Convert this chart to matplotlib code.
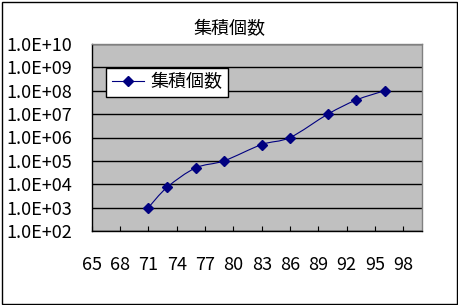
import numpy as np
import matplotlib
matplotlib.use("Agg")
import matplotlib.pyplot as plt
from matplotlib.path import Path
from matplotlib.patches import PathPatch, Rectangle
from matplotlib.lines import Line2D
from matplotlib.ticker import FixedLocator, FuncFormatter, NullLocator

plt.rcParams["font.family"] = ["Noto Sans CJK JP", "DejaVu Sans"]

# data
title = "集積個数"
series_name = "集積個数"
x_vals = [71, 73, 76, 79, 83, 86, 90, 93, 96]
y_vals = [1e3, 7.5e3, 5e4, 1e5, 5e5, 1e6, 1e7, 4e7, 1e8]
x_ticks = [65, 68, 71, 74, 77, 80, 83, 86, 89, 92, 95, 98]
y_decades = [2, 3, 4, 5, 6, 7, 8, 9, 10]

NAVY = "#000080"
PLOT_BG = "#c0c0c0"

fig = plt.figure(figsize=(4.58, 3.05), dpi=100)
fig.patch.set_facecolor("white")
ax = fig.add_axes([91.7 / 458, 1 - 231 / 305, (422.3 - 91.7) / 458, (231 - 44) / 305])
ax.set_facecolor(PLOT_BG)

# outer chart border
fig.add_artist(Rectangle((1.5 / 458, 1.5 / 305), 455 / 458, 302 / 305,
                         transform=fig.transFigure, fill=False,
                         edgecolor="black", linewidth=1.0))

ax.set_yscale("log")
ax.set_xlim(65, 100)
ax.set_ylim(1e2, 1e10)

# smoothed line (Excel-style bezier), control points in (x, log10 y) space
lx = np.array(x_vals, float)
ly = np.log10(y_vals)
verts = [(lx[0], ly[0])]
codes = [Path.MOVETO]
n = len(lx)
for i in range(n - 1):
    p_prev = i - 1 if i > 0 else i
    p_next = i + 2 if i + 2 < n else i + 1
    c1 = (lx[i] + (lx[i + 1] - lx[p_prev]) / 6, ly[i] + (ly[i + 1] - ly[p_prev]) / 6)
    c2 = (lx[i + 1] - (lx[p_next] - lx[i]) / 6, ly[i + 1] - (ly[p_next] - ly[i]) / 6)
    verts += [c1, c2, (lx[i + 1], ly[i + 1])]
    codes += [Path.CURVE4] * 3
verts = [(vx, 10 ** vy) for vx, vy in verts]
ax.add_patch(PathPatch(Path(verts, codes), facecolor="none", edgecolor=NAVY,
                       linewidth=0.8, transform=ax.transData, zorder=3))
ax.plot(x_vals, y_vals, linestyle="none", marker="D", markersize=5.5,
        color=NAVY, zorder=4)

# gridlines
ax.yaxis.set_major_locator(FixedLocator([10.0 ** d for d in y_decades]))
ax.yaxis.set_minor_locator(NullLocator())
ax.yaxis.set_major_formatter(FuncFormatter(lambda v, pos: "1.0E+%02d" % round(np.log10(v))))
ax.grid(axis="y", color="black", linewidth=1.0)
ax.set_axisbelow(True)

ax.set_xticks(x_ticks)
ax.tick_params(axis="x", direction="in", length=3.8, width=0.8, pad=18,
               labelsize=13, colors="black")
ax.tick_params(axis="y", length=0, pad=14, labelsize=13)

for side in ("top", "right"):
    ax.spines[side].set_color("#808080")
    ax.spines[side].set_linewidth(1.0)
for side in ("left", "bottom"):
    ax.spines[side].set_color("black")
    ax.spines[side].set_linewidth(1.0)

fig.text(0.5, 1 - 29 / 305, title, ha="center", va="center", fontsize=13)

handle = Line2D([], [], color=NAVY, linewidth=0.8, marker="D", markersize=5.5)
leg = ax.legend([handle], [series_name], loc="upper left",
                bbox_to_anchor=(106.3 / 458, 1 - 67.7 / 305),
                bbox_transform=fig.transFigure, fontsize=13,
                frameon=True, fancybox=False, framealpha=1,
                borderpad=0.3, handlelength=1.8, handletextpad=0.35,
                borderaxespad=0)
leg.get_frame().set_edgecolor("black")
leg.get_frame().set_linewidth(1.0)
leg.get_frame().set_facecolor("white")

fig.savefig("out.png", dpi=100)
